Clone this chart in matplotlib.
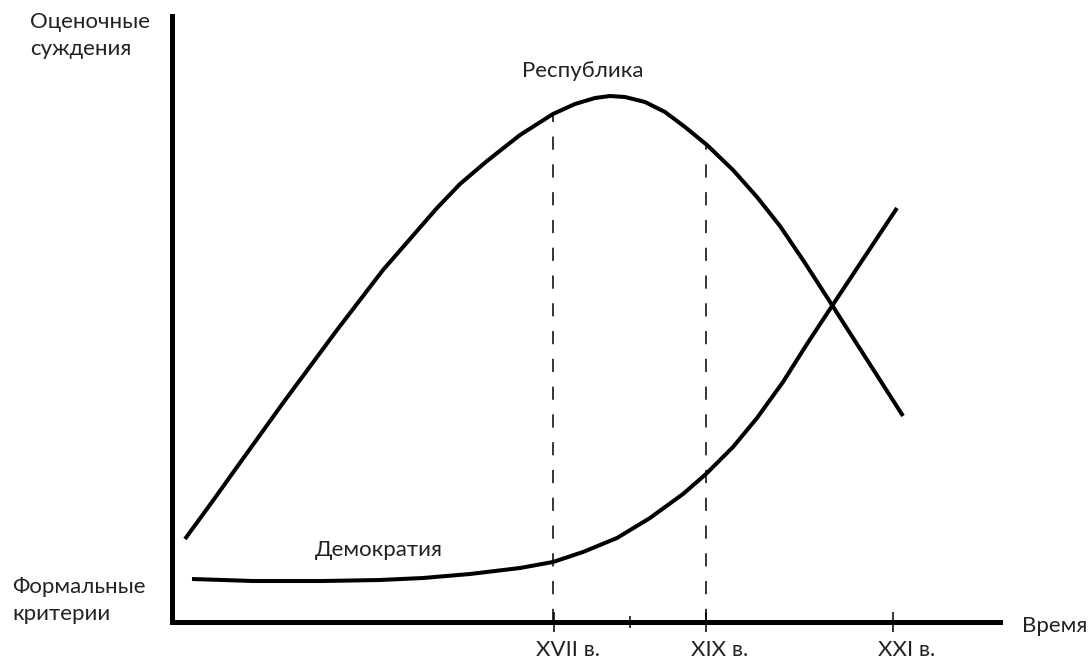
import numpy as np
import matplotlib
matplotlib.use("Agg")
import matplotlib.pyplot as plt
from matplotlib.transforms import ScaledTranslation

plt.rcParams['font.family'] = ['Lato', 'DejaVu Sans']
plt.rcParams['lines.scale_dashes'] = False

#%% data (x: right of the y axis, y: above the x axis)

rep_x = [13, 40, 65, 111, 165, 211, 265, 288, 315, 348, 381, 403, 423, 438,
         453, 473, 493, 513, 535, 561, 585, 608, 633, 660, 731]
rep_y = [83, 120, 155, 219, 292, 352, 414, 438, 461, 487, 508, 518, 524, 526,
         525, 520, 510, 495, 477, 452, 425, 396, 359, 317, 206]

dem_x = [20, 81, 150, 208, 251, 298, 348, 381, 411, 445, 478, 511, 534, 561,
         585, 611, 635, 660, 725]
dem_y = [43, 41, 41, 42, 44, 48, 54, 60, 70, 84, 104, 128, 148, 175, 204,
         240, 278, 316, 414]

tick_major = [382, 534, 721]
tick_minor = [458]
tick_labels = ["XVII в.", "XIX в.", "XXI в."]
dash_x = [381, 534]

W, H = 1091, 659
fig = plt.figure(figsize=(W / 100, H / 100), dpi=100)

# axes placed so the spines sit where the reference draws them
x0, y0, x1, y1 = 172, 622, 1000, 16
ax = fig.add_axes([x0 / W, (H - y0) / H, (x1 - x0) / W, (y0 - y1) / H])
ax.set_xlim(0, x1 - x0)
ax.set_ylim(0, y0 - y1)

for s in ["top", "right"]:
    ax.spines[s].set_visible(False)
for s in ["left", "bottom"]:
    ax.spines[s].set_linewidth(3.6)
    ax.spines[s].set_capstyle("projecting")

ax.plot(rep_x, rep_y, color="black", lw=2.9, solid_capstyle="butt", solid_joinstyle="round")
ax.plot(dem_x, dem_y, color="black", lw=2.9, solid_capstyle="butt", solid_joinstyle="round")

# dashed drops from the republic curve to the time axis
for dx in dash_x:
    top = np.interp(dx, rep_x, rep_y)
    ax.plot([dx, dx], [0, top], color="black", lw=1.1, linestyle=(0, (9.5, 10.5)))

ax.set_yticks([])
ax.set_xticks(tick_major)
ax.set_xticks(tick_minor, minor=True)
ax.set_xticklabels(tick_labels, fontsize=16, color="#222222")
ax.tick_params(axis="x", which="major", direction="inout", length=14, width=1.1, pad=6)
ax.tick_params(axis="x", which="minor", direction="inout", length=8, width=1.1)
for lab in ax.get_xticklabels():
    lab.set_transform(lab.get_transform() + ScaledTranslation(0.14, 0, fig.dpi_scale_trans))

def px(x, y):
    return x / W, (H - y) / H

txt = dict(fontsize=16, color="#222222", va="baseline", ha="left")
fig.text(*px(30, 28), "Оценочные", **txt)
fig.text(*px(30, 55), "суждения", **txt)
fig.text(*px(12, 593), "Формальные", **txt)
fig.text(*px(12, 620), "критерии", **txt)
fig.text(*px(1022, 632), "Время", **txt)
fig.text(*px(522, 77), "Республика", **txt)
fig.text(*px(315, 556), "Демократия", **txt)

fig.savefig("out.png", dpi=100)
